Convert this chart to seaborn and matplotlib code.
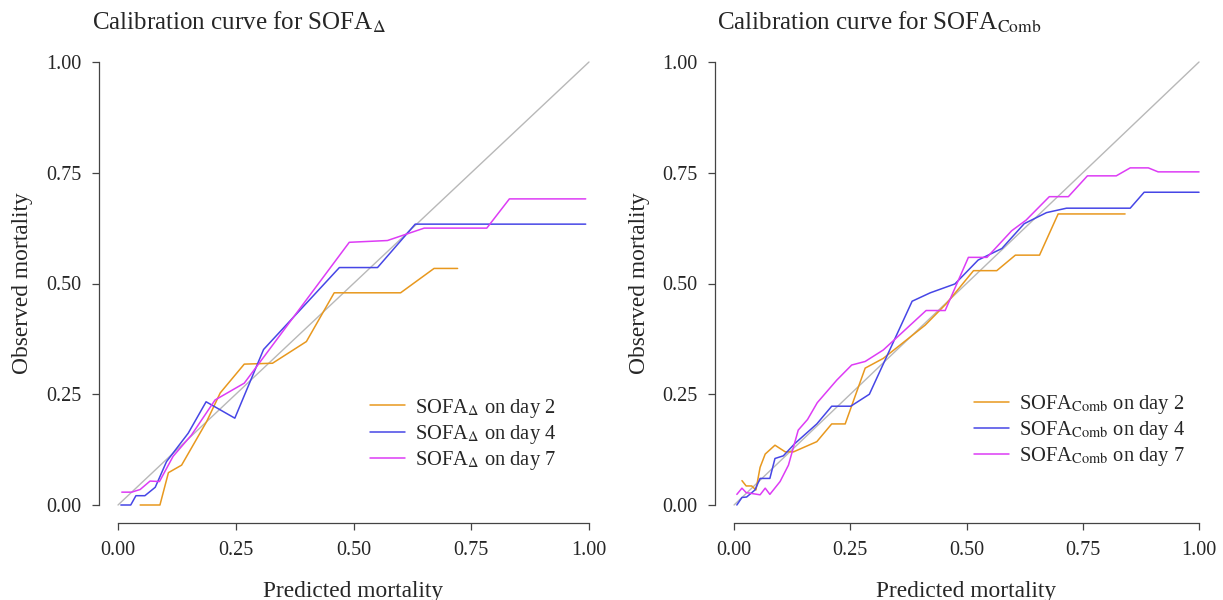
import matplotlib
matplotlib.use('Agg')
import matplotlib.pyplot as plt
import seaborn as sns
import pandas as pd

sns.set_style('ticks')
plt.rcParams['font.family'] = ['Liberation Serif', 'DejaVu Serif']
plt.rcParams['mathtext.fontset'] = 'stix'
plt.rcParams['xtick.labelsize'] = 14.5
plt.rcParams['ytick.labelsize'] = 14.5

# ---- data ----
# SOFA delta panel
delta_d2_x = [0.047, 0.089, 0.107, 0.135, 0.188, 0.217, 0.268, 0.328, 0.40, 0.459, 0.60, 0.671, 0.721]
delta_d2_y = [0.0, 0.0, 0.073, 0.09, 0.188, 0.253, 0.318, 0.32, 0.369, 0.479, 0.479, 0.534, 0.534]

delta_d4_x = [0.006, 0.027, 0.038, 0.057, 0.079, 0.103, 0.149, 0.187, 0.248, 0.309, 0.47, 0.551, 0.631, 0.993]
delta_d4_y = [0.0, 0.0, 0.021, 0.021, 0.04, 0.098, 0.162, 0.233, 0.196, 0.351, 0.536, 0.536, 0.634, 0.634]

delta_d7_x = [0.008, 0.029, 0.047, 0.068, 0.088, 0.117, 0.156, 0.206, 0.268, 0.491, 0.572, 0.65, 0.783, 0.831, 0.993]
delta_d7_y = [0.029, 0.029, 0.035, 0.054, 0.053, 0.11, 0.158, 0.237, 0.275, 0.593, 0.597, 0.625, 0.625, 0.691, 0.691]

# SOFA comb panel
comb_d2_x = [0.017, 0.026, 0.038, 0.047, 0.056, 0.067, 0.088, 0.11, 0.128, 0.178, 0.21, 0.239, 0.282,
             0.321, 0.411, 0.457, 0.515, 0.565, 0.605, 0.657, 0.697, 0.841]
comb_d2_y = [0.055, 0.043, 0.043, 0.034, 0.085, 0.115, 0.135, 0.12, 0.12, 0.143, 0.183, 0.183, 0.309,
             0.331, 0.406, 0.455, 0.529, 0.529, 0.564, 0.564, 0.657, 0.657]

comb_d4_x = [0.006, 0.017, 0.027, 0.045, 0.056, 0.077, 0.088, 0.106, 0.131, 0.178, 0.21, 0.251, 0.291,
             0.383, 0.422, 0.475, 0.525, 0.576, 0.624, 0.672, 0.715, 0.852, 0.882, 1.0]
comb_d4_y = [0.0, 0.017, 0.018, 0.034, 0.06, 0.06, 0.105, 0.111, 0.139, 0.183, 0.223, 0.223, 0.25,
             0.46, 0.479, 0.499, 0.553, 0.579, 0.635, 0.66, 0.67, 0.67, 0.706, 0.706]

comb_d7_x = [0.006, 0.017, 0.026, 0.056, 0.067, 0.077, 0.099, 0.117, 0.138, 0.158, 0.179, 0.221, 0.253,
             0.282, 0.321, 0.413, 0.454, 0.504, 0.544, 0.597, 0.628, 0.678, 0.719, 0.76, 0.822, 0.852,
             0.891, 0.912, 1.0]
comb_d7_y = [0.024, 0.038, 0.028, 0.023, 0.038, 0.024, 0.053, 0.09, 0.169, 0.193, 0.231, 0.282, 0.316,
             0.324, 0.35, 0.439, 0.439, 0.559, 0.559, 0.619, 0.643, 0.696, 0.696, 0.743, 0.743, 0.761,
             0.761, 0.752, 0.752]

TICKS = [0.0, 0.25, 0.5, 0.75, 1.0]
COLORS = ['#E8981E', '#4646E6', '#DD3CF5']


def make_df(series, labels):
    frames = []
    for (xs, ys), lab in zip(series, labels):
        frames.append(pd.DataFrame({'pred': xs, 'obs': ys, 'group': lab}))
    return pd.concat(frames, ignore_index=True)


def draw(ax, df, labels, legend_anchor):
    ax.plot([0, 1], [0, 1], color='#B8B8B8', lw=1.0, zorder=1)
    sns.lineplot(data=df, x='pred', y='obs', hue='group', hue_order=labels,
                 palette=COLORS, sort=False, estimator=None, lw=1.1, ax=ax)
    ax.set_xlim(-0.04, 1.04)
    ax.set_ylim(-0.04, 1.04)
    ax.set_xticks(TICKS)
    ax.set_yticks(TICKS)
    ax.set_xticklabels(['%.2f' % t for t in TICKS])
    ax.set_yticklabels(['%.2f' % t for t in TICKS])
    ax.set_xlabel('Predicted mortality', fontsize=16.8, labelpad=15)
    ax.set_ylabel('Observed mortality', fontsize=16.8, labelpad=9)
    for s in ['top', 'right']:
        ax.spines[s].set_visible(False)
    for s in ['left', 'bottom']:
        ax.spines[s].set_bounds(0, 1)
        ax.spines[s].set_color('#444444')
        ax.spines[s].set_linewidth(0.9)
    ax.tick_params(direction='out', length=5, width=0.9, pad=8, color='#444444')
    leg = ax.legend(loc='center left', bbox_to_anchor=legend_anchor, frameon=False,
                    fontsize=14.8, handlelength=1.7, handletextpad=0.5, labelspacing=0.15)
    return leg


fig = plt.figure(figsize=(12.23, 6.0), dpi=100)
ax1 = fig.add_axes([0.0811, 0.1288, 0.4159, 0.7974])
ax2 = fig.add_axes([0.5850, 0.1288, 0.4106, 0.7974])

lab_delta = [r'SOFA$_\Delta$ on day 2', r'SOFA$_\Delta$ on day 4', r'SOFA$_\Delta$ on day 7']
lab_comb = [r'SOFA$_{\mathrm{Comb}}$ on day 2', r'SOFA$_{\mathrm{Comb}}$ on day 4',
            r'SOFA$_{\mathrm{Comb}}$ on day 7']

df1 = make_df([(delta_d2_x, delta_d2_y), (delta_d4_x, delta_d4_y), (delta_d7_x, delta_d7_y)], lab_delta)
df2 = make_df([(comb_d2_x, comb_d2_y), (comb_d4_x, comb_d4_y), (comb_d7_x, comb_d7_y)], lab_comb)

draw(ax1, df1, lab_delta, (0.496, 0.185))
draw(ax2, df2, lab_comb, (0.478, 0.192))

fig.text(0.075, 0.963, r'Calibration curve for SOFA$_\Delta$', fontsize=18, va='center')
fig.text(0.586, 0.963, r'Calibration curve for SOFA$_{\mathrm{Comb}}$', fontsize=18, va='center')

plt.savefig('out.png', dpi=100)
